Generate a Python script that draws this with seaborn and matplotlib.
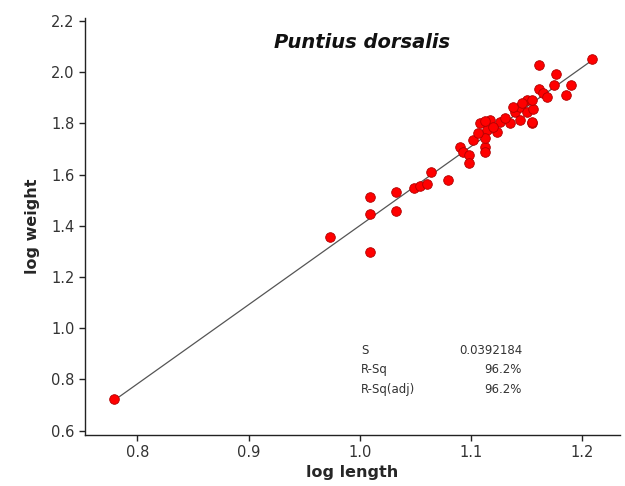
import matplotlib
matplotlib.use("Agg")
import matplotlib.pyplot as plt
import seaborn as sns
import numpy as np
import pandas as pd

# ---- data ----
log_length = [0.779, 0.973, 1.009, 1.009, 1.009, 1.033, 1.033, 1.049, 1.054, 1.060,
              1.064, 1.079, 1.090, 1.093, 1.098, 1.098, 1.102, 1.108, 1.114, 1.113,
              1.113, 1.117, 1.126, 1.123, 1.135, 1.113, 1.120, 1.140, 1.144, 1.150,
              1.150, 1.156, 1.155, 1.144, 1.161, 1.176, 1.175, 1.190, 1.185, 1.161,
              1.165, 1.209, 1.138, 1.131, 1.106, 1.146, 1.168, 1.155, 1.113, 1.155]
log_weight = [0.723, 1.357, 1.512, 1.446, 1.297, 1.533, 1.457, 1.546, 1.555, 1.565,
              1.611, 1.578, 1.708, 1.689, 1.676, 1.645, 1.734, 1.800, 1.773, 1.708,
              1.689, 1.812, 1.806, 1.767, 1.800, 1.742, 1.785, 1.845, 1.864, 1.891,
              1.845, 1.858, 1.800, 1.813, 2.027, 1.995, 1.949, 1.949, 1.910, 1.936,
              1.917, 2.053, 1.864, 1.820, 1.762, 1.878, 1.903, 1.891, 1.808, 1.806]

x_ticks = [0.8, 0.9, 1.0, 1.1, 1.2]
y_ticks = [0.6, 0.8, 1.0, 1.2, 1.4, 1.6, 1.8, 2.0, 2.2]

title = "Puntius dorsalis"
stat_names = ["S", "R-Sq", "R-Sq(adj)"]
stat_values = ["0.0392184", "96.2%", "96.2%"]

df = pd.DataFrame({"log length": log_length, "log weight": log_weight})

sns.set_style("white")
plt.rcParams["font.family"] = ["DejaVu Sans"]

fig = plt.figure(figsize=(6.25, 4.86), dpi=100)
ax = fig.add_axes([0.136, 0.105, 0.856, 0.858])

sns.regplot(data=df, x="log length", y="log weight", ax=ax, scatter=False, ci=None,
            line_kws=dict(color="#555555", lw=0.9))
sns.scatterplot(data=df, x="log length", y="log weight", ax=ax, s=48,
                color="#ff0000", edgecolor="#b00000", linewidth=0.6, zorder=3)

ax.set_xlim(0.7529, 1.234)
ax.set_ylim(0.583, 2.212)
ax.set_xticks(x_ticks)
ax.set_xticklabels([f"{t:.1f}" for t in x_ticks])
ax.set_yticks(y_ticks)
ax.set_yticklabels([f"{t:.1f}" for t in y_ticks])

for s in ["top", "right"]:
    ax.spines[s].set_visible(False)
for s in ["left", "bottom"]:
    ax.spines[s].set_color("#222222")
    ax.spines[s].set_linewidth(1.0)

ax.tick_params(axis="both", which="major", direction="out", length=4.5, width=1.0,
               color="#222222", labelsize=10.5, labelcolor="#333333", pad=3,
               bottom=True, left=True)

ax.set_xlabel("log length", fontsize=11.5, fontweight="bold", labelpad=3)
ax.set_ylabel("log weight", fontsize=11.5, fontweight="bold", labelpad=8)

fig.text(362 / 625, 1 - 43 / 486, title, fontsize=14, fontweight="bold",
         fontstyle="italic", ha="center", va="center", color="#111111")

ys = [350, 369.5, 389.5]
for name, val, yy in zip(stat_names, stat_values, ys):
    fig.text(361 / 625, 1 - yy / 486, name, fontsize=8.5, ha="left", va="center",
             color="#333333")
    fig.text(522 / 625, 1 - yy / 486, val, fontsize=8.5, ha="right", va="center",
             color="#333333")

fig.savefig("out.png", dpi=100)
